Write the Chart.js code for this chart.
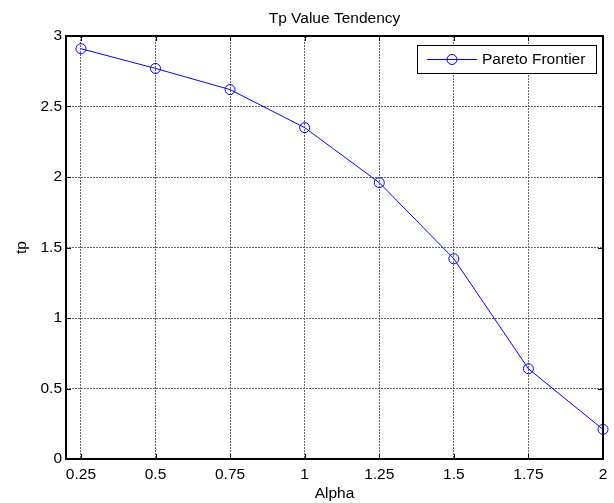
<!DOCTYPE html>
<html>
<head>
<meta charset="utf-8">
<script src="https://cdn.jsdelivr.net/npm/chart.js@4/dist/chart.umd.min.js"></script>
<style>
  html, body { margin: 0; padding: 0; background: #fff; }
  #wrap { width: 614px; height: 503px; }
</style>
</head>
<body>
<div id="wrap"><canvas id="c" width="614" height="503"></canvas></div>
<script>
const chartTitle = "Tp Value Tendency";
const xLabel = "Alpha";
const yLabel = "tp";
const seriesName = "Pareto Frontier";
const alpha = [0.25, 0.5, 0.75, 1, 1.25, 1.5, 1.75, 2];
const tp = [2.91, 2.77, 2.62, 2.35, 1.96, 1.42, 0.64, 0.21];
const xTicks = [0.25, 0.5, 0.75, 1, 1.25, 1.5, 1.75, 2];
const yTicks = [0, 0.5, 1, 1.5, 2, 2.5, 3];

const FONT = "Liberation Sans, Arial, sans-serif";
const FS = 15.5;
const BLUE = "#0000ff";

const matlabPlugin = {
  id: "matlab",
  afterDraw(chart) {
    const ctx = chart.ctx;
    const a = chart.chartArea;
    const xs = chart.scales.x, ys = chart.scales.y;
    ctx.save();
    // frame
    ctx.strokeStyle = "#000";
    ctx.lineWidth = 2;
    ctx.setLineDash([]);
    ctx.strokeRect(a.left, a.top, a.right - a.left, a.bottom - a.top);
    // inward ticks
    ctx.lineWidth = 1;
    const tl = 5;
    ctx.beginPath();
    xTicks.forEach(v => {
      const px = Math.round(xs.getPixelForValue(v)) + 0.5;
      ctx.moveTo(px, a.bottom); ctx.lineTo(px, a.bottom - tl);
      ctx.moveTo(px, a.top); ctx.lineTo(px, a.top + tl);
    });
    yTicks.forEach(v => {
      const py = Math.round(ys.getPixelForValue(v)) + 0.5;
      ctx.moveTo(a.left, py); ctx.lineTo(a.left + tl, py);
      ctx.moveTo(a.right, py); ctx.lineTo(a.right - tl, py);
    });
    ctx.stroke();
    // title
    ctx.fillStyle = "#000";
    ctx.font = FS + "px " + FONT;
    ctx.textAlign = "center";
    ctx.textBaseline = "middle";
    ctx.fillText(chartTitle, (a.left + a.right) / 2, 19);
    // x label
    ctx.fillText(xLabel, (a.left + a.right) / 2, 494);
    // y label
    ctx.save();
    ctx.translate(22, (a.top + a.bottom) / 2);
    ctx.rotate(-Math.PI / 2);
    ctx.fillText(yLabel, 0, 0);
    ctx.restore();
    // legend
    const lx = 417, ly = 45, lw = 179, lh = 28;
    ctx.fillStyle = "#fff";
    ctx.fillRect(lx, ly, lw, lh);
    ctx.strokeStyle = "#000";
    ctx.lineWidth = 1;
    ctx.strokeRect(lx + 0.5, ly + 0.5, lw, lh);
    const my = ly + lh / 2 + 0.5;
    ctx.strokeStyle = BLUE;
    ctx.beginPath();
    ctx.moveTo(427, my); ctx.lineTo(477, my);
    ctx.stroke();
    ctx.beginPath();
    ctx.arc(452, my, 5, 0, Math.PI * 2);
    ctx.stroke();
    ctx.fillStyle = "#000";
    ctx.textAlign = "left";
    ctx.textBaseline = "middle";
    ctx.fillText(seriesName, 482, my);
    ctx.restore();
  }
};

new Chart(document.getElementById("c"), {
  type: "line",
  data: {
    datasets: [{
      label: seriesName,
      data: alpha.map((x, i) => ({ x: x, y: tp[i] })),
      borderColor: BLUE,
      borderWidth: 1,
      backgroundColor: "rgba(0,0,0,0)",
      pointStyle: "circle",
      pointRadius: 5,
      pointBorderWidth: 1,
      pointBorderColor: BLUE,
      pointBackgroundColor: "rgba(0,0,0,0)",
      tension: 0,
      clip: false
    }]
  },
  options: {
    responsive: false,
    animation: false,
    events: [],
    layout: { padding: { top: 36, right: 11, left: 0, bottom: 0 } },
    plugins: { legend: { display: false }, title: { display: false }, tooltip: { enabled: false } },
    scales: {
      x: {
        type: "linear",
        min: 0.2,
        max: 2,
        afterBuildTicks: s => { s.ticks = xTicks.map(v => ({ value: v })); },
        afterFit: s => { s.height = 44; },
        ticks: { color: "#000", font: { family: FONT, size: FS }, padding: 6, maxRotation: 0, autoSkip: false,
                 callback: v => String(v) },
        grid: { color: "#666", lineWidth: 1, drawTicks: false },
        border: { display: false, dash: [2, 1] }
      },
      y: {
        type: "linear",
        min: 0,
        max: 3,
        afterBuildTicks: s => { s.ticks = yTicks.map(v => ({ value: v })); },
        afterFit: s => { s.width = 66; },
        ticks: { color: "#000", font: { family: FONT, size: FS }, padding: 4, autoSkip: false,
                 callback: v => String(v) },
        grid: { color: "#666", lineWidth: 1, drawTicks: false },
        border: { display: false, dash: [2, 1] }
      }
    }
  },
  plugins: [matlabPlugin]
});
</script>
</body>
</html>
